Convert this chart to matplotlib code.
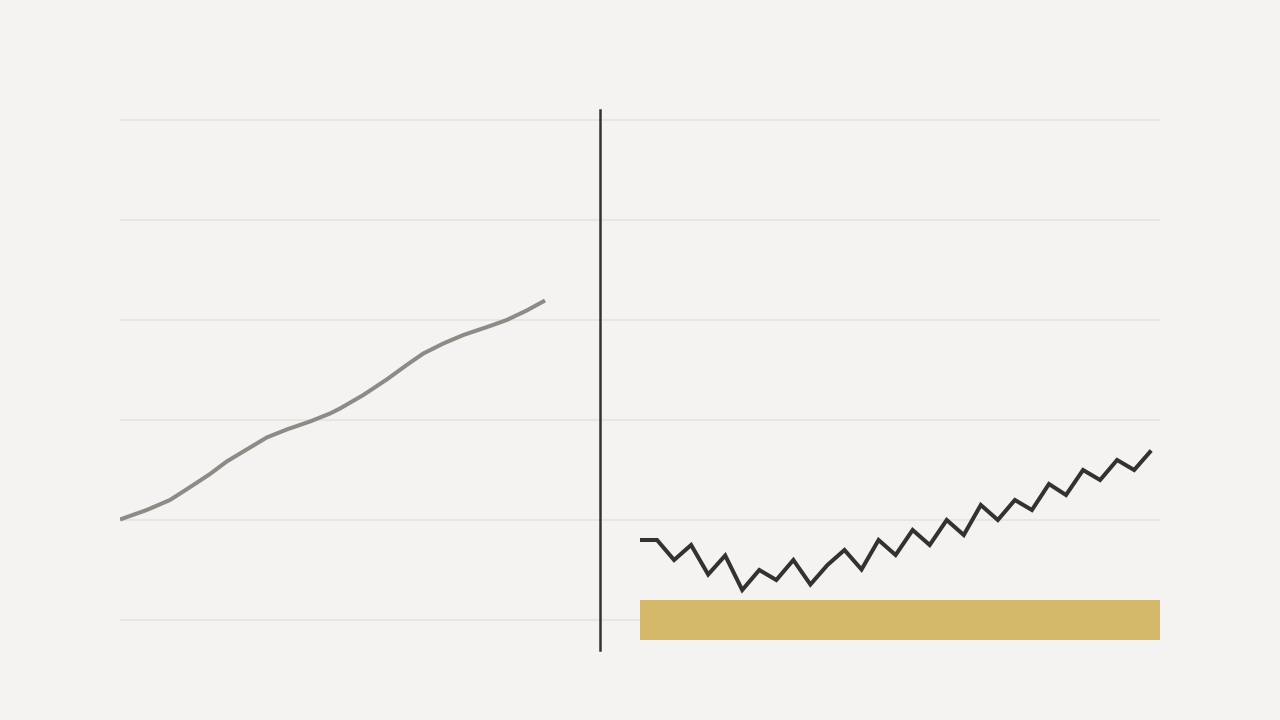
import numpy as np
import matplotlib.pyplot as plt

# left series (smooth, grey)
left_x = [0, 2.67, 5.0, 7.33, 9.0, 10.67, 12.67, 14.67, 16.67, 19.0, 21.0, 22.0,
          24.33, 26.67, 28.67, 30.33, 32.33, 34.33, 37.0, 38.67, 40.67, 42.5]
left_y = [20.1, 22.0, 24.0, 27.0, 29.2, 31.7, 34.1, 36.5, 38.1, 39.7, 41.3, 42.3,
          45.0, 48.1, 51.0, 53.3, 55.3, 57.0, 58.8, 60.0, 61.9, 63.9]

# right series (zigzag, dark)
right_x = 52 + 1.704 * np.arange(31)
right_y = [16, 16, 12, 15, 9.1, 12.9, 6, 10, 8, 12, 7.1, 11, 14, 10.1, 16, 13, 18, 15,
           20, 17, 23, 20, 24, 22, 27.2, 25, 30, 28, 32, 30, 33.9]

# band under right series
band_x = (52, 104)
band_y = (-4, 4)

divider_x = 48
divider_y = (-6, 102)

grid_vals = [0, 20, 40, 60, 80, 100]

bg = "#f4f3f1"
fig = plt.figure(figsize=(12.8, 7.2), dpi=100, facecolor=bg)
ax = fig.add_axes([120 / 1280, 0, 1040 / 1280, 1])
ax.set_facecolor(bg)
ax.set_xlim(0, 104)
ax.set_ylim(-20, 124)

for v in grid_vals:
    ax.axhline(v, color="#e6e4e1", lw=1.2, zorder=1)

ax.fill_between(band_x, band_y[0], band_y[1], color="#d5b96b", lw=0, zorder=2)
ax.plot(left_x, left_y, color="#8e8a84", lw=2.9, solid_capstyle="butt",
        solid_joinstyle="round", zorder=3)
ax.plot(right_x, right_y, color="#34322f", lw=2.9, solid_joinstyle="miter",
        solid_capstyle="butt", zorder=3)
ax.plot([divider_x, divider_x], divider_y, color="#34322f", lw=1.8, zorder=4)

ax.set_xticks([])
ax.set_yticks([])
for s in ax.spines.values():
    s.set_visible(False)

fig.savefig("out.png", dpi=100, facecolor=bg)
